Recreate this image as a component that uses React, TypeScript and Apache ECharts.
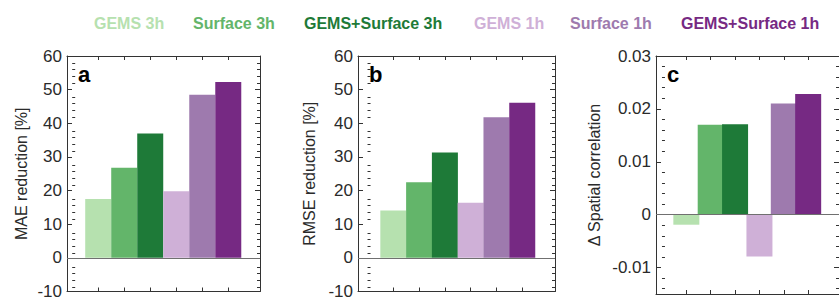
import React, { useEffect, useRef } from "react";
import * as echarts from "echarts";

// ---- data ----
const seriesNames = ["GEMS 3h", "Surface 3h", "GEMS+Surface 3h", "GEMS 1h", "Surface 1h", "GEMS+Surface 1h"];
const seriesColors = ["#b6e1af", "#63b56a", "#1e7a38", "#cfb0d7", "#9e7aae", "#762983"];
const barPositions = [1, 2, 3, 4, 5, 6];
const maeReduction = [17.5, 26.8, 37.0, 19.8, 48.5, 52.3];
const rmseReduction = [14.1, 22.5, 31.3, 16.4, 41.8, 46.1];
const spatialCorrDelta = [-0.0019, 0.017, 0.0171, -0.0079, 0.021, 0.0228];
const percentTicks = [-10, 0, 10, 20, 30, 40, 50, 60];
const corrTicks = [-0.01, 0, 0.01, 0.02, 0.03];
const panelLetters = ["a", "b", "c"];
const panelTitles = ["MAE reduction [%]", "RMSE reduction [%]", "\u0394 Spatial correlation"];

const FONT = "'Liberation Sans', Arial, Helvetica, sans-serif";
const AXIS_COLOR = "#333";
const TEXT_COLOR = "#2a2a2a";

function minorTicks(majors: number[], divisions: number, lo: number, hi: number) {
  const step = (majors[1] - majors[0]) / divisions;
  const out: number[] = [];
  const n0 = Math.ceil(lo / step - 1e-9);
  const n1 = Math.floor(hi / step + 1e-9);
  for (let n = n0; n <= n1; n++) {
    const v = parseFloat((n * step).toPrecision(6));
    const isMajor = majors.some((m) => Math.abs(m - v) < step * 1e-3);
    if (!isMajor) out.push(v);
  }
  return out;
}

const panels = [
  { values: maeReduction, ticks: percentTicks, yMin: -10, yMax: 60, left: 67, width: 193, xMin: -0.2, xMax: 7.22, nameGap: 38 },
  { values: rmseReduction, ticks: percentTicks, yMin: -10, yMax: 60, left: 358, width: 197, xMin: -0.37, xMax: 7.27, nameGap: 41 },
  { values: spatialCorrDelta, ticks: corrTicks, yMin: -0.015, yMax: 0.03, left: 656, width: 193, xMin: -0.245, xMax: 7.265, nameGap: 54 },
];

const legendStarts = [94, 193, 304, 474, 570, 681];

export default function App() {
  const ref = useRef<HTMLDivElement>(null);
  useEffect(() => {
    if (!ref.current) return;
    const chart = echarts.init(ref.current, undefined, { renderer: "svg" });

    const grid: any[] = [];
    const xAxis: any[] = [];
    const yAxis: any[] = [];
    const series: any[] = [];
    const graphic: any[] = [];

    panels.forEach((p, pi) => {
      const mainGrid = pi * 2;
      const minorGrid = pi * 2 + 1;
      grid.push({ left: p.left, top: 56, width: p.width, height: 238 });
      grid.push({ left: p.left, top: 56, width: p.width, height: 238 });
      const minors = minorTicks(p.ticks, 5, p.yMin, p.yMax);

      // main grid: frame, x ticks, major y ticks
      const mainXIndex = xAxis.length;
      ["bottom", "top"].forEach((pos) => {
        xAxis.push({
          type: "value",
          gridIndex: mainGrid,
          position: pos,
          min: p.xMin,
          max: p.xMax,
          axisLine: { show: true, onZero: false, lineStyle: { color: AXIS_COLOR, width: 1 } },
          axisTick: { show: true, inside: true, length: 4, customValues: barPositions, lineStyle: { color: AXIS_COLOR } },
          axisLabel: { show: false },
          splitLine: { show: false },
        });
      });
      const mainYIndex = yAxis.length;
      ["left", "right"].forEach((pos) => {
        yAxis.push({
          type: "value",
          gridIndex: mainGrid,
          position: pos,
          min: p.yMin,
          max: p.yMax,
          name: pos === "left" ? panelTitles[pi] : "",
          nameLocation: "middle",
          nameGap: p.nameGap,
          nameTextStyle: { fontSize: 16, color: TEXT_COLOR, fontFamily: FONT },
          axisLine: { show: true, onZero: false, lineStyle: { color: AXIS_COLOR, width: 1 } },
          axisTick: { show: true, inside: true, length: 5, customValues: p.ticks, lineStyle: { color: AXIS_COLOR } },
          axisLabel: {
            show: pos === "left",
            customValues: p.ticks,
            fontSize: 17,
            color: TEXT_COLOR,
            fontFamily: FONT,
            margin: 5,
          },
          splitLine: { show: false },
        });
      });

      // minor grid: minor y ticks only
      xAxis.push({
        type: "value",
        gridIndex: minorGrid,
        position: "bottom",
        min: p.xMin,
        max: p.xMax,
        show: false,
      });
      ["left", "right"].forEach((pos) => {
        yAxis.push({
          type: "value",
          gridIndex: minorGrid,
          position: pos,
          min: p.yMin,
          max: p.yMax,
          axisLine: { show: false },
          axisTick: { show: true, inside: true, length: 3, customValues: minors, lineStyle: { color: AXIS_COLOR } },
          axisLabel: { show: false },
          splitLine: { show: false },
        });
      });

      seriesNames.forEach((name, si) => {
        const s: any = {
          type: "bar",
          name,
          xAxisIndex: mainXIndex,
          yAxisIndex: mainYIndex,
          barWidth: 26,
          barGap: "-100%",
          itemStyle: { color: seriesColors[si] },
          data: [[barPositions[si], p.values[si]]],
        };
        if (si === 0) {
          s.markLine = {
            silent: true,
            symbol: "none",
            label: { show: false },
            lineStyle: { color: "#707070", width: 1, type: "solid" },
            data: [{ yAxis: 0 }],
          };
        }
        series.push(s);
      });

      graphic.push({
        type: "text",
        x: p.left + 11,
        y: 74,
        style: {
          text: panelLetters[pi],
          fontSize: 22,
          fontWeight: "bold",
          fontFamily: FONT,
          fill: "#000",
          verticalAlign: "middle",
        },
      });
    });

    const legend = seriesNames.map((name, i) => ({
      data: [name],
      left: legendStarts[i] - 10,
      top: 10,
      itemWidth: 0,
      itemHeight: 0,
      selectedMode: false,
      textStyle: { color: seriesColors[i], fontSize: 16, fontWeight: "bold", fontFamily: FONT },
    }));

    chart.setOption({
      animation: false,
      backgroundColor: "#fff",
      legend,
      grid,
      xAxis,
      yAxis,
      series,
      graphic,
    });
    return () => chart.dispose();
  }, []);
  return (
    <div
      ref={ref}
      style={{ position: "fixed", left: 0, top: 0, width: 839, height: 300 }}
    />
  );
}
